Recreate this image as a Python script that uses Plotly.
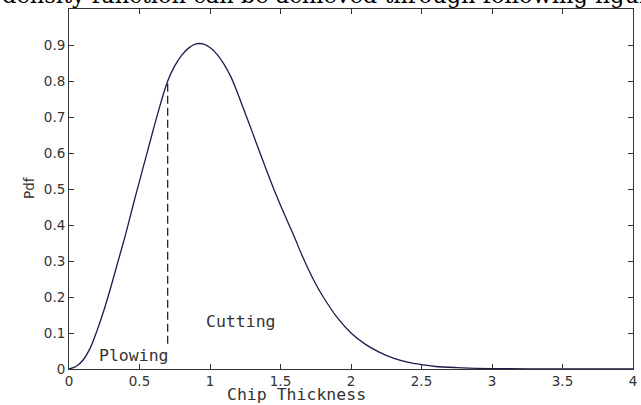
import plotly.graph_objects as go

# Values
thickness = [0, 0.05, 0.1, 0.15, 0.2, 0.25, 0.3, 0.35, 0.4, 0.45, 0.5, 0.55, 0.6, 0.65,
             0.7, 0.75, 0.8, 0.85, 0.9, 0.95, 1.0, 1.05, 1.1, 1.15, 1.2, 1.25, 1.3, 1.35,
             1.4, 1.45, 1.5, 1.55, 1.6, 1.65, 1.7, 1.75, 1.8, 1.9, 2.0, 2.1, 2.2, 2.3,
             2.4, 2.5, 2.6, 2.75, 3.0, 3.5, 4.0]
pdf = [0, 0.007, 0.025, 0.058, 0.108, 0.166, 0.232, 0.302, 0.372, 0.448, 0.522, 0.595,
       0.668, 0.738, 0.800, 0.842, 0.872, 0.892, 0.903, 0.903, 0.893, 0.874, 0.846, 0.81,
       0.762, 0.71, 0.658, 0.605, 0.553, 0.502, 0.455, 0.41, 0.365, 0.318, 0.275, 0.236,
       0.202, 0.144, 0.1, 0.069, 0.047, 0.030, 0.019, 0.012, 0.007, 0.004, 0.001, 0, 0]

boundary_x = [0.7, 0.7]
boundary_y = [0.07, 0.8]

x_ticks = [0, 0.5, 1, 1.5, 2, 2.5, 3, 3.5, 4]
x_labels = ["0", "0.5", "1", "1.5", "2", "2.5", "3", "3.5", "4"]
y_ticks = [0, 0.1, 0.2, 0.3, 0.4, 0.5, 0.6, 0.7, 0.8, 0.9, 1.0]
y_labels = ["0", "0.1", "0.2", "0.3", "0.4", "0.5", "0.6", "0.7", "0.8", "0.9", ""]

fig = go.Figure()
fig.add_trace(go.Scatter(x=thickness, y=pdf, mode="lines",
                         line=dict(color="#1b1b4d", width=1.3, shape="spline", smoothing=0.8),
                         hoverinfo="skip"))
fig.add_trace(go.Scatter(x=boundary_x, y=boundary_y, mode="lines",
                         line=dict(color="#111111", width=1.2, dash="8px,4px"),
                         hoverinfo="skip"))

mono = "DejaVu Sans Mono"
fig.add_annotation(x=0.46, y=0.038, xref="x", yref="y", text="Plowing", showarrow=False,
                   font=dict(family=mono, size=16.5, color="#333333"))
fig.add_annotation(x=1.223, y=0.132, xref="x", yref="y", text="Cutting", showarrow=False,
                   font=dict(family=mono, size=16.5, color="#333333"))
fig.add_annotation(x=(296 - 69) / 564, y=0, xref="paper", yref="paper", yshift=-25,
                   text="Chip Thickness", showarrow=False, yanchor="middle",
                   font=dict(family=mono, size=16.5, color="#333333"))
fig.add_annotation(x=(19 - 69) / 564, y=(369 - 188) / 360, xref="paper", yref="paper",
                   text="Pdf", showarrow=False, textangle=-90,
                   font=dict(family="DejaVu Sans", size=13.5, color="#333333"))
fig.add_annotation(x=-69 / 564, y=1, xref="paper", yref="paper", xanchor="left",
                   yanchor="bottom", yshift=-1,
                   text="density function can be achieved through following figure",
                   showarrow=False,
                   font=dict(family="DejaVu Serif", size=22.5, color="#000000"))

axis_common = dict(showgrid=False, zeroline=False, showline=True, linecolor="#333333",
                   linewidth=1, mirror="ticks", ticks="inside", ticklen=5,
                   tickcolor="#333333", tickfont=dict(family="DejaVu Sans", size=13.5,
                                                      color="#333333"))
fig.update_xaxes(range=[0, 4], tickvals=x_ticks, ticktext=x_labels, **axis_common)
fig.update_yaxes(range=[0, 1], tickvals=y_ticks, ticktext=y_labels, **axis_common)

fig.update_layout(width=641, height=405, margin=dict(l=69, r=8, t=9, b=36, autoexpand=False),
                  paper_bgcolor="white", plot_bgcolor="white", showlegend=False)

fig.write_html("out.html", config={"displayModeBar": False},
               post_script="document.body.style.margin='0';")
